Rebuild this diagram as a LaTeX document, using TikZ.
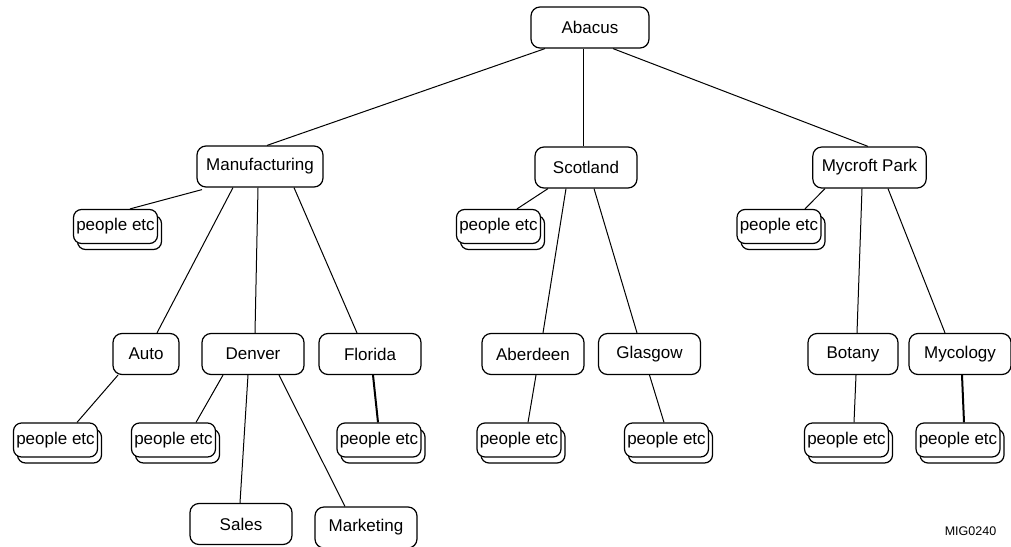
\documentclass[tikz,border=0pt]{standalone}
\usepackage{fontspec}
\setmainfont{Liberation Sans}
\usepackage{tikz}
\usetikzlibrary{shapes}
\usetikzlibrary{shadows}
\usetikzlibrary{positioning, arrows.meta}

\tikzset{
    unit/.style={draw, rounded corners=9pt, line width=1.2pt, fill=white,
        minimum width=102pt, minimum height=41pt, inner xsep=9pt,
        font=\fontsize{17}{20}\selectfont},
    people/.style={draw, rounded corners=8pt, line width=1.2pt, fill=white,
        minimum width=84pt, minimum height=34pt, inner sep=2pt,
        font=\fontsize{17}{20}\selectfont,
        copy shadow={shadow xshift=4pt, shadow yshift=-6pt, fill=white, draw=black}},
    link/.style={line width=1pt},
    strong link/.style={line width=2pt}
}

\begin{document}
\begin{tikzpicture}[x=1pt, y=-1pt]
                \useasboundingbox (0,0) rectangle (1011,546);

                % Nodes
                \node [unit, minimum width=118pt] (Abacus) at (590, 27.5) {Abacus};
                \node [unit, minimum width=126pt] (Manufacturing) at (260, 166.5) {Manufacturing};
                \node [unit] (Scotland) at (586, 167.5) {Scotland};
                \node [unit, minimum width=113pt] (MycroftPark) at (869.5, 167.5) {Mycroft Park};

                \node [people] (ManufacturingPeople) at (115.5, 226.5) {people etc};
                \node [people] (ScotlandPeople) at (498.5, 226.5) {people etc};
                \node [people] (MycroftPeople) at (779, 226.5) {people etc};

                \node [unit, minimum width=66pt] (Auto) at (146, 354) {Auto};
                \node [unit] (Denver) at (253, 354) {Denver};
                \node [unit] (Florida) at (370, 354) {Florida};
                \node [unit] (Aberdeen) at (533, 354) {Aberdeen};
                \node [unit] (Glasgow) at (649.5, 354) {Glasgow};
                \node [unit, minimum width=90pt] (Botany) at (853, 354) {Botany};
                \node [unit] (Mycology) at (960, 354) {Mycology};

                \node [people] (AutoPeople) at (55.5, 440) {people etc};
                \node [people] (DenverPeople) at (173.5, 440) {people etc};
                \node [people] (FloridaPeople) at (379, 440) {people etc};
                \node [people] (AberdeenPeople) at (519, 440) {people etc};
                \node [people] (GlasgowPeople) at (666.5, 440) {people etc};
                \node [people] (BotanyPeople) at (846.5, 440) {people etc};
                \node [people] (MycologyPeople) at (958, 440) {people etc};

                \node [unit] (Sales) at (241, 524) {Sales};
                \node [unit] (Marketing) at (366, 527.5) {Marketing};

                \node [font=\fontsize{12.5}{14}\selectfont] (FigId) at (970.5, 531.5) {MIG0240};

                % Edges
                % Abacus to the three sites
                \draw [link] ([xshift=-45pt]Abacus.south) -- ([xshift=7pt]Manufacturing.north);
                \draw [link] ([xshift=-7pt]Abacus.south) -- ([xshift=-3pt]Scotland.north);
                \draw [link] ([xshift=23pt]Abacus.south) -- ([xshift=-1.5pt]MycroftPark.north);

                % Manufacturing
                \draw [link] ([xshift=-58pt, yshift=-2pt]Manufacturing.south) -- ([xshift=14.5pt]ManufacturingPeople.north);
                \draw [link] ([xshift=-27pt]Manufacturing.south) -- ([xshift=11pt]Auto.north);
                \draw [link] ([xshift=-2pt]Manufacturing.south) -- ([xshift=2pt]Denver.north);
                \draw [link] ([xshift=34pt]Manufacturing.south) -- ([xshift=-13pt]Florida.north);

                % Scotland
                \draw [link] ([xshift=-38pt]Scotland.south) -- ([xshift=18.5pt]ScotlandPeople.north);
                \draw [link] ([xshift=-20pt]Scotland.south) -- ([xshift=10pt]Aberdeen.north);
                \draw [link] ([xshift=8pt]Scotland.south) -- ([xshift=-12.5pt]Glasgow.north);

                % Mycroft Park
                \draw [link] ([xshift=-44.5pt]MycroftPark.south) -- ([xshift=26pt]MycroftPeople.north);
                \draw [link] ([xshift=-7.5pt]MycroftPark.south) -- ([xshift=4pt]Botany.north);
                \draw [link] ([xshift=18.5pt]MycroftPark.south) -- ([xshift=-15pt]Mycology.north);

                % Departments
                \draw [link] ([xshift=-28pt]Auto.south) -- ([xshift=21.5pt]AutoPeople.north);
                \draw [link] ([xshift=-30pt]Denver.south) -- ([xshift=22.5pt]DenverPeople.north);
                \draw [link] ([xshift=-5pt]Denver.south) -- ([xshift=-1pt]Sales.north);
                \draw [link] ([xshift=26pt]Denver.south) -- ([xshift=-21pt]Marketing.north);
                \draw [strong link] ([xshift=3pt]Florida.south) -- ([xshift=-1pt]FloridaPeople.north);
                \draw [link] ([xshift=3pt]Aberdeen.south) -- ([xshift=9pt]AberdeenPeople.north);
                \draw [link] (Glasgow.south) -- ([xshift=-2.5pt]GlasgowPeople.north);
                \draw [link] ([xshift=3pt]Botany.south) -- ([xshift=7.5pt]BotanyPeople.north);
                \draw [strong link] ([xshift=2pt]Mycology.south) -- ([xshift=6pt]MycologyPeople.north);

            \end{tikzpicture}
\end{document}
